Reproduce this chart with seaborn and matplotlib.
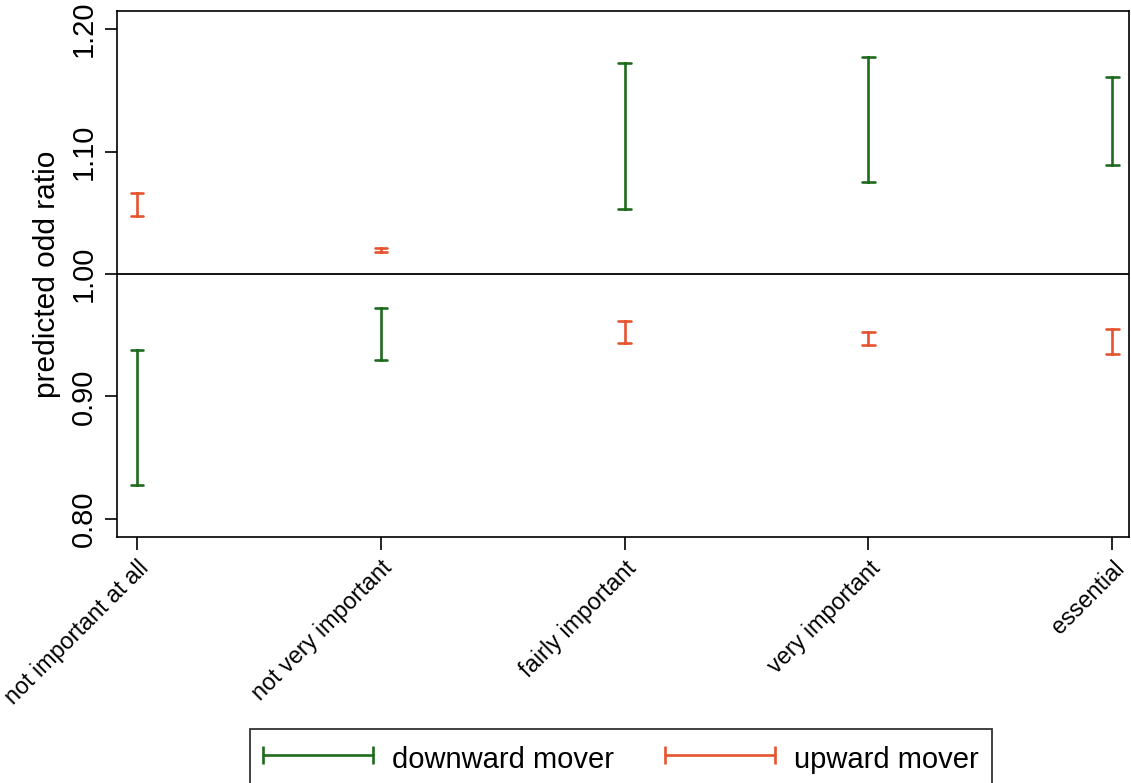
import matplotlib
matplotlib.use("Agg")
import matplotlib.pyplot as plt
import numpy as np
import pandas as pd
import seaborn as sns
from matplotlib.legend_handler import HandlerLine2D
from matplotlib.lines import Line2D
from matplotlib.transforms import ScaledTranslation

categories = ["not important at all", "not very important", "fairly important",
              "very important", "essential"]
groups = ["downward mover", "upward mover"]

# lower / upper bound of the predicted odds ratio
down_low = [0.828, 0.930, 1.053, 1.075, 1.089]
down_high = [0.938, 0.972, 1.172, 1.177, 1.161]
up_low = [1.047, 1.018, 0.944, 0.942, 0.935]
up_high = [1.066, 1.021, 0.962, 0.953, 0.955]

y_ticks = [0.80, 0.90, 1.00, 1.10, 1.20]

GREEN = "#1e6b1e"
RED = "#e5542f"

rows = []
for i, cat in enumerate(categories):
    rows.append((cat, groups[0], down_low[i]))
    rows.append((cat, groups[0], down_high[i]))
    rows.append((cat, groups[1], up_low[i]))
    rows.append((cat, groups[1], up_high[i]))
df = pd.DataFrame(rows, columns=["importance", "group", "odds"])

sns.set_style("ticks")
plt.rcParams["font.family"] = ["Liberation Sans", "DejaVu Sans"]
plt.rcParams["text.color"] = "black"
plt.rcParams["axes.labelcolor"] = "black"
plt.rcParams["xtick.color"] = "black"
plt.rcParams["ytick.color"] = "black"

fig = plt.figure(figsize=(11.31, 7.83), dpi=100)
ax = fig.add_axes([117 / 1131, 1 - 537 / 783, (1129 - 117) / 1131, (537 - 11) / 783])

sns.pointplot(
    data=df, x="importance", y="odds", hue="group",
    order=categories, hue_order=groups, palette=[GREEN, RED],
    estimator="mean", errorbar=lambda v: (v.min(), v.max()),
    dodge=False, markers="", linestyles="none", capsize=0.05,
    err_kws={"linewidth": 1.9}, legend=False, ax=ax,
)

ax.axhline(1.0, color="black", linewidth=1.3, zorder=0)

ax.set_xlim(-0.081, 4.068)
ax.set_ylim(0.7853, 1.2147)
ax.set_yticks(y_ticks)
ax.set_yticklabels([f"{t:.2f}" for t in y_ticks], rotation=90, va="center", fontsize=21)
ax.set_xticks(range(len(categories)))
ax.set_xticklabels(categories, rotation=45, ha="right", rotation_mode="anchor", fontsize=16.8)
# nudge the slanted labels a little up and left, as in the original
shift = ScaledTranslation(-5 / 100, 5 / 100, fig.dpi_scale_trans)
for lbl in ax.get_xticklabels():
    lbl.set_transform(lbl.get_transform() + shift)
ax.set_xlabel("")
ax.set_ylabel("predicted odd ratio", fontsize=21.5, labelpad=6)

ax.tick_params(axis="both", direction="out", length=9, width=1.2, color="black",
               labelcolor="black", pad=5)
for side in ["left", "right", "top", "bottom"]:
    ax.spines[side].set_visible(True)
    ax.spines[side].set_color("black")
    ax.spines[side].set_linewidth(1.2)

handles = [
    Line2D([0, 1], [0, 0], color=GREEN, lw=1.9, marker="|", markersize=13, mew=1.9),
    Line2D([0, 1], [0, 0], color=RED, lw=1.9, marker="|", markersize=13, mew=1.9),
]
leg = fig.legend(
    handles, groups, loc="upper left", bbox_to_anchor=(250 / 1131, 1 - 729 / 783),
    ncol=2, numpoints=2, fontsize=21, frameon=True, fancybox=False,
    edgecolor="black", handlelength=3.77, handleheight=1.3, handletextpad=0.65,
    columnspacing=1.75, borderpad=0.45, borderaxespad=0,
    handler_map={Line2D: HandlerLine2D(marker_pad=0)},
)
leg.get_frame().set_linewidth(1.3)

fig.savefig("out.png", dpi=100)
